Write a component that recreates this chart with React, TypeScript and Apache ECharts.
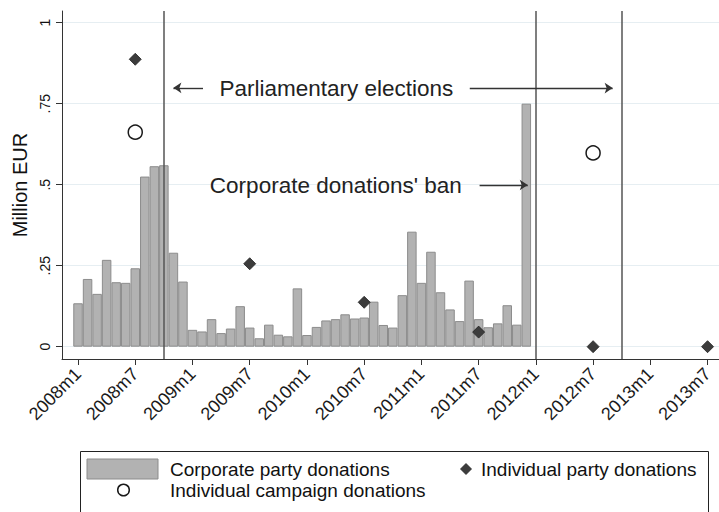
import React, { useEffect, useRef } from "react";
import * as echarts from "echarts";

// ---- data ----
const START_YEAR = 2008;
const monthIndex = (label: string) => {
  const [y, m] = label.split("m").map(Number);
  return (y - START_YEAR) * 12 + (m - 1);
};

// Corporate party donations, monthly 2008m1 .. 2011m12 (million EUR)
const corporateStart = "2008m1";
const corporateValues = [
  0.134, 0.209, 0.163, 0.268, 0.199, 0.197, 0.242, 0.525, 0.557, 0.56, 0.29, 0.201,
  0.052, 0.047, 0.085, 0.042, 0.056, 0.125, 0.059, 0.026, 0.068, 0.037, 0.032, 0.18,
  0.036, 0.061, 0.081, 0.085, 0.1, 0.087, 0.09, 0.139, 0.067, 0.059, 0.159, 0.355,
  0.197, 0.293, 0.168, 0.115, 0.079, 0.204, 0.085, 0.06, 0.072, 0.128, 0.068, 0.75,
];

const individualPartyMonths = ["2008m7", "2009m7", "2010m7", "2011m7", "2012m7", "2013m7"];
const individualPartyValues = [0.887, 0.256, 0.137, 0.045, 0, 0];

const campaignMonths = ["2008m7", "2012m7"];
const campaignValues = [0.662, 0.598];

const xTickLabels = [
  "2008m1", "2008m7", "2009m1", "2009m7", "2010m1", "2010m7",
  "2011m1", "2011m7", "2012m1", "2012m7", "2013m1", "2013m7",
];
const yTickValues = [0, 0.25, 0.5, 0.75, 1];
const yTickLabels = ["0", ".25", ".5", ".75", "1"];

const eventMonths = ["2008m10", "2012m1", "2012m10"];

const electionsText = "Parliamentary elections";
const banText = "Corporate donations' ban";

const FONT = "'Liberation Sans', Arial, Helvetica, sans-serif";

export default function App() {
  const ref = useRef<HTMLDivElement>(null);

  useEffect(() => {
    if (!ref.current) return;
    const chart = echarts.init(ref.current, undefined, { renderer: "svg" });

    const c0 = monthIndex(corporateStart);
    const barData = corporateValues.map((v, i) => [c0 + i, v]);
    const partyData = individualPartyMonths.map((m, i) => [monthIndex(m), individualPartyValues[i]]);
    const campData = campaignMonths.map((m, i) => [monthIndex(m), campaignValues[i]]);
    const xTickVals = xTickLabels.map(monthIndex);
    const labelByIndex: Record<number, string> = {};
    xTickLabels.forEach((l) => (labelByIndex[monthIndex(l)] = l));

    const ev1 = monthIndex(eventMonths[0]);
    const ev2 = monthIndex(eventMonths[1]);
    const ev3 = monthIndex(eventMonths[2]);

    const option: any = {
      animation: false,
      textStyle: { fontFamily: FONT },
      grid: { left: 62, top: 11, right: 0, bottom: 153, containLabel: false },
      xAxis: {
        type: "value",
        min: -1.68,
        max: 67.2,
        axisLine: { show: true, onZero: false, lineStyle: { color: "#333", width: 1 } },
        axisTick: { show: true, length: 6, customValues: xTickVals, lineStyle: { color: "#333" } },
        axisLabel: {
          customValues: xTickVals,
          rotate: 45,
          margin: 12,
          fontSize: 18,
          color: "#1a1a1a",
          fontFamily: FONT,
          formatter: (v: number) => labelByIndex[Math.round(v)] ?? "",
        },
        splitLine: { show: false },
      },
      yAxis: {
        type: "value",
        min: -0.038,
        max: 1.036,
        name: "Million EUR",
        nameLocation: "middle",
        nameGap: 28,
        nameTextStyle: { fontSize: 20, color: "#111", fontFamily: FONT },
        axisLine: { show: true, onZero: false, lineStyle: { color: "#333", width: 1 } },
        axisTick: { show: true, length: 6, customValues: yTickValues, lineStyle: { color: "#333" } },
        axisLabel: {
          customValues: yTickValues,
          rotate: 90,
          margin: 10,
          fontSize: 14,
          color: "#111",
          fontFamily: FONT,
          formatter: (v: number) => {
            const i = yTickValues.findIndex((t) => Math.abs(t - v) < 1e-6);
            return i >= 0 ? yTickLabels[i] : "";
          },
        },
        splitLine: { show: true, lineStyle: { color: "#e6eef2", width: 1.2 } },
      },
      series: [
        {
          type: "bar",
          name: "Corporate party donations",
          data: barData,
          barWidth: 9.5,
          itemStyle: { color: "#b2b2b2", borderColor: "#8c8c8c", borderWidth: 1 },
          markLine: {
            silent: true,
            symbol: ["none", "none"],
            label: { show: false },
            lineStyle: { color: "#555", width: 1.5, type: "solid" },
            data: [{ xAxis: ev1 }, { xAxis: ev2 }, { xAxis: ev3 }],
          },
        },
        {
          type: "scatter",
          name: "Individual campaign donations",
          data: campData,
          symbol: "circle",
          symbolSize: 14,
          itemStyle: { color: "#fff", borderColor: "#1a1a1a", borderWidth: 1.5, opacity: 1 },
          z: 3,
        },
        {
          type: "scatter",
          name: "Individual party donations",
          data: partyData,
          symbol: "diamond",
          symbolSize: 12,
          itemStyle: { color: "#3c3c3c", borderColor: "#222", borderWidth: 0.8, opacity: 1 },
          z: 4,
          markLine: {
            silent: true,
            symbol: ["none", "arrow"],
            symbolSize: 8,
            label: { show: false },
            lineStyle: { color: "#333", width: 1.4, type: "solid" },
            data: [
              [{ coord: [13.1, 0.799] }, { coord: [10.0, 0.799] }],
              [{ coord: [41.07, 0.798] }, { coord: [56.05, 0.798] }],
              [{ coord: [42.1, 0.499] }, { coord: [47.15, 0.499] }],
            ],
          },
          markPoint: {
            silent: true,
            symbol: "rect",
            symbolSize: 1,
            itemStyle: { color: "rgba(0,0,0,0)" },
            label: {
              show: true,
              position: "inside",
              fontSize: 22.5,
              color: "#222",
              fontFamily: FONT,
              formatter: (p: any) => p.name,
            },
            data: [
              { name: electionsText, coord: [27.08, 0.797] },
              { name: banText, coord: [27.03, 0.497] },
            ],
          },
        },
      ],
      graphic: [
        {
          type: "group",
          silent: true,
          children: [
            {
              type: "rect",
              shape: { x: 80.5, y: 451.5, width: 628, height: 80 },
              style: { fill: "#fff", stroke: "#222", lineWidth: 1 },
            },
            {
              type: "rect",
              shape: { x: 87, y: 459, width: 71, height: 20 },
              style: { fill: "#b2b2b2", stroke: "#8c8c8c", lineWidth: 1 },
            },
            {
              type: "text",
              x: 170,
              y: 469,
              style: { text: "Corporate party donations", fontSize: 19, fontFamily: FONT, fill: "#111", verticalAlign: "middle" },
            },
            {
              type: "polygon",
              shape: { points: [[466, 463.5], [471.5, 469], [466, 474.5], [460.5, 469]] },
              style: { fill: "#3c3c3c", stroke: "#222", lineWidth: 0.8 },
            },
            {
              type: "text",
              x: 481,
              y: 469,
              style: { text: "Individual party donations", fontSize: 19, fontFamily: FONT, fill: "#111", verticalAlign: "middle" },
            },
            {
              type: "circle",
              shape: { cx: 123.5, cy: 490, r: 5.8 },
              style: { fill: "#fff", stroke: "#1a1a1a", lineWidth: 1.5 },
            },
            {
              type: "text",
              x: 170,
              y: 490,
              style: { text: "Individual campaign donations", fontSize: 19, fontFamily: FONT, fill: "#111", verticalAlign: "middle" },
            },
          ],
        },
      ],
    };

    chart.setOption(option);
    return () => chart.dispose();
  }, []);

  return (
    <div
      ref={ref}
      style={{ width: 719, height: 512, position: "absolute", left: 0, top: 0, background: "#fff" }}
    />
  );
}
